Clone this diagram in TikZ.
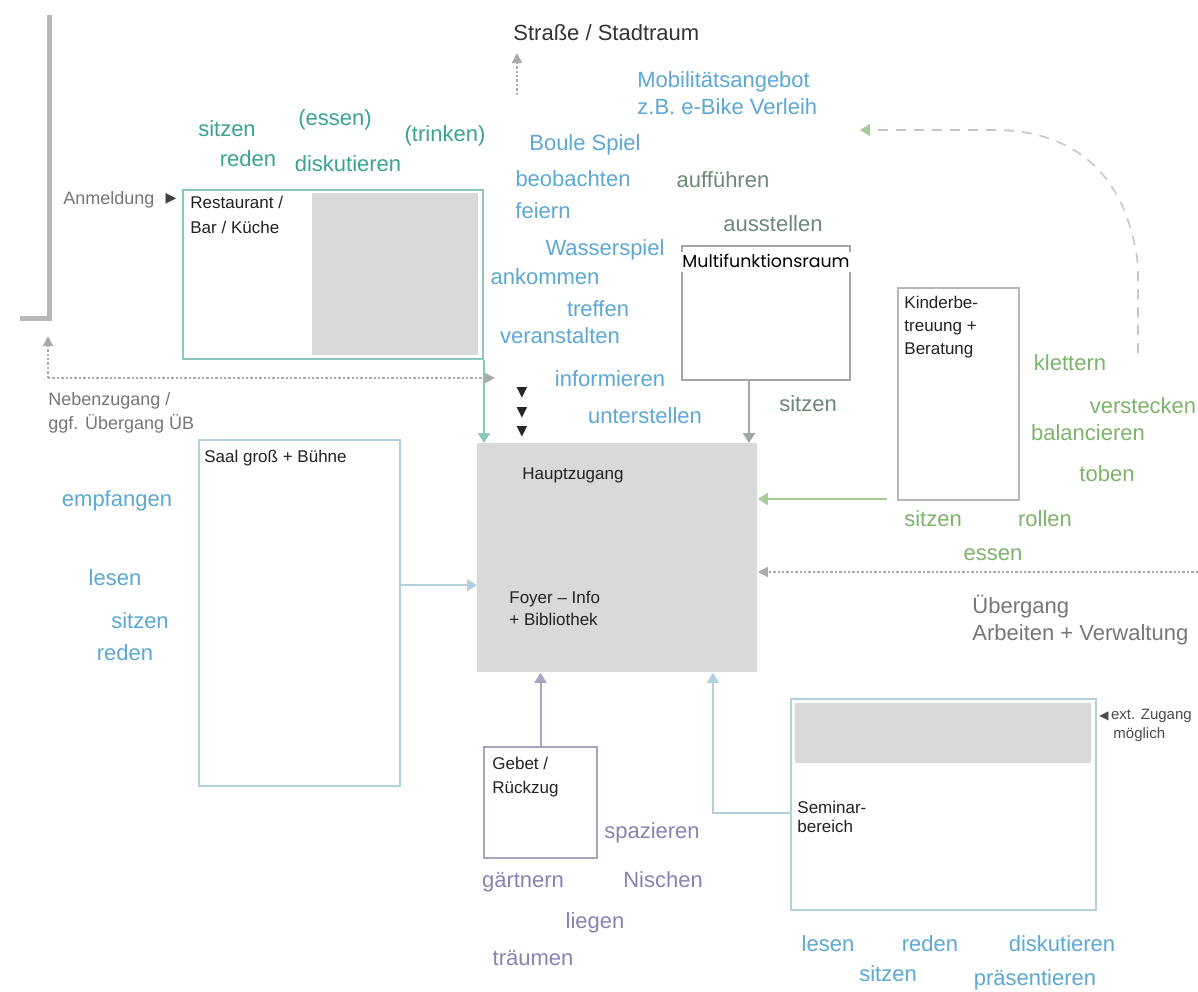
\documentclass[tikz,border=0pt]{standalone}
\usepackage{fontspec}
\setmainfont{Liberation Sans}
\newfontfamily\geo{Poppins}
\newfontfamily\sym{DejaVu Sans}
\usetikzlibrary{arrows.meta,calc}
\definecolor{tealtxt}{HTML}{3AA394}
\definecolor{tealline}{HTML}{8CC5BC}
\definecolor{bluetxt}{HTML}{5DA8D4}
\definecolor{blueline}{HTML}{B4D0DE}
\definecolor{ggtxt}{HTML}{6C8A78}
\definecolor{greentxt}{HTML}{7DB46C}
\definecolor{greenline}{HTML}{A9CB9C}
\definecolor{purpletxt}{HTML}{8A82B4}
\definecolor{purpleline}{HTML}{A7A3C0}
\definecolor{grayline}{HTML}{A3A8A5}
\definecolor{kinderline}{HTML}{B5B8B5}
\definecolor{boxgray}{HTML}{D9D9D9}
\definecolor{lbltxt}{HTML}{222222}
\definecolor{graytxt}{HTML}{777777}
\definecolor{dotgray}{HTML}{ABABAB}
\begin{document}
\begin{tikzpicture}[x=0.5pt,y=-0.5pt,
  word/.style={inner sep=0pt, font=\fontsize{11}{13}\selectfont, text height=8pt, text depth=0pt},
  tw/.style={word, text=tealtxt},
  bw/.style={word, text=bluetxt},
  gw/.style={word, text=ggtxt},
  grw/.style={word, text=greentxt},
  pw/.style={word, text=purpletxt},
  lbl/.style={inner sep=0pt, anchor=base west, text=lbltxt, font=\fontsize{8.5}{10}\selectfont},
  glbl/.style={inner sep=0pt, anchor=base west, text=graytxt, font=\fontsize{9}{11}\selectfont},
  room/.style={draw, line width=1pt, inner sep=0pt, anchor=north west},
  arr/.style={line width=1pt, -{Triangle[length=5pt,width=6pt]}},
  dots/.style={line width=0.8pt, dash pattern=on 1.2pt off 1pt, draw=dotgray},
]
\clip (0,0) rectangle (1198,991);
\fill[white] (0,0) rectangle (1198,991);

% top-left bracket
\draw[line width=2.5pt, color=black!28] (20,318) -- (49,318) -- (49,15);

% rooms
\fill[boxgray] (312,193) rectangle (478,355);
\node[room, draw=tealline, minimum width=150pt, minimum height=84.5pt] (rest) at (182,189) {};
\node[lbl] (restl1) at (190,208) {Restaurant /};
\node[lbl] (restl2) at (190,233) {Bar / Küche};

\node[fill=boxgray, inner sep=0pt, anchor=north west, minimum width=140pt, minimum height=114.5pt] (haupt) at (477,443) {};
\node[lbl] (hauptl) at (522,479) {Hauptzugang};
\node[lbl] (foyer1) at (509,603) {Foyer – Info};
\node[lbl] (foyer2) at (509,625) {+ Bibliothek};

\node[room, draw=grayline, minimum width=84pt, minimum height=67pt] (multi) at (681,245) {};
\node[fill=white, inner xsep=0.5pt, inner ysep=0.5pt, text height=7pt, text depth=2pt, anchor=base west, font=\geo\fontsize{8.7}{10}\selectfont] (multil) at (681,267) {Multifunktionsraum};

\node[room, draw=kinderline, minimum width=60.5pt, minimum height=106pt] (kinder) at (897,287) {};
\node[lbl] (kl1) at (904,308) {Kinderbe-};
\node[lbl] (kl2) at (904,331) {treuung +};
\node[lbl] (kl3) at (904,354) {Beratung};

\node[room, draw=blueline, minimum width=100.5pt, minimum height=173pt] (saal) at (198,439) {};
\node[lbl] (saall) at (204,462) {Saal groß + Bühne};

\node[room, draw=purpleline, minimum width=56.5pt, minimum height=55.5pt] (gebet) at (483,746) {};
\node[lbl] (gl1) at (492,769) {Gebet /};
\node[lbl] (gl2) at (492,793) {Rückzug};

\fill[boxgray] (795,703) rectangle (1091,763);
\node[room, draw=blueline, minimum width=152.5pt, minimum height=105.5pt] (seminar) at (790,698) {};
\node[lbl] (sl1) at (797,813) {Seminar-};
\node[lbl] (sl2) at (797,832) {bereich};

% connectors
\draw[arr, tealline] (rest.south east) -- (rest.south east |- haupt.north);
\coordinate (mx) at ($(multi.south west)!0.4!(multi.south east)$);
\draw[arr, grayline] (mx) -- (mx |- haupt.north);
\coordinate (kx) at ($(kinder.south west)+(-10,-2)$);
\draw[arr, greenline] (kx) -- (kx -| haupt.east);
\coordinate (sx) at ($(saal.north east)!0.42!(saal.south east)$);
\draw[arr, blueline] (sx) -- (sx -| haupt.west);
\draw[arr, purpleline] (gebet.north) -- (gebet.north |- haupt.south);
\coordinate (semx) at ($(seminar.north west)!0.54!(seminar.south west)$);
\coordinate (hx) at ($(haupt.south west)!0.84!(haupt.south east)$);
\draw[arr, blueline] (semx) -| (hx);

% three small triangles
\foreach \yy/\nm in {393/t1,413/t2,432/t3}
  \node[inner sep=0pt, font=\sym\fontsize{7}{7}\selectfont, text=black!85] (\nm) at (522,\yy) {▼};

% Nebenzugang
\coordinate (nbup) at (48,336);
\coordinate (nbcorner) at (48,378);
\coordinate (nbright) at (495,378);
\draw[dots, -{Triangle[length=5pt,width=5pt]}, dotgray] (nbcorner) -- (nbup);
\draw[dots, -{Triangle[length=5pt,width=5pt]}, dotgray] (nbcorner) -- (nbright);
\node[glbl] (nb1) at (48,405) {Nebenzugang /};
\node[glbl] (nb2) at (48,429) {ggf. Übergang ÜB};

% Anmeldung
\node[glbl] (anm) at (63,204) {Anmeldung};
\node[inner sep=0pt, font=\sym\fontsize{7}{7}\selectfont, text=black!75] (anmt) at (171,199) {▶};

% Strasse
\node[inner sep=0pt, anchor=base west, text=black!80, font=\fontsize{11}{13}\selectfont] (strasse) at (513,40) {Straße / Stadtraum};
\coordinate (st0) at (517,95);
\coordinate (st1) at (517,53);
\draw[dots, -{Triangle[length=5pt,width=5pt]}] (st0) -- (st1);

% Mobilitaet
\node[bw, anchor=west] (mob1) at (637,79) {Mobilitätsangebot};
\node[bw, anchor=west] (mob2) at (637,106) {z.B. e-Bike Verleih};

% curved dashed arrow
\coordinate (cv0) at (1138,353);
\coordinate (cv1) at (860,130);
\draw[line width=0.8pt, draw=black!22, dash pattern=on 5pt off 4pt,
  -{Triangle[length=5pt,width=6pt, fill=greenline, color=greenline]}]
  (cv0) -- (1138,265) .. controls (1125,160) and (1060,132) .. (1000,130) -- (cv1);

% Uebergang
\coordinate (ub0) at (1198,572);
\draw[dots, -{Triangle[length=5pt,width=5pt]}] (ub0) -- (ub0 -| haupt.east);
\node[inner sep=0pt, anchor=base west, text=graytxt, font=\fontsize{11}{13}\selectfont] (ub1) at (972,613) {Übergang};
\node[inner sep=0pt, anchor=base west, text=graytxt, font=\fontsize{11}{13}\selectfont] (ub2) at (972,640) {Arbeiten + Verwaltung};

% ext Zugang
\node[lbl, text=black!70, font=\fontsize{7.5}{9}\selectfont] (ext1) at (1099,719) {{\sym\fontsize{6}{6}\selectfont ◀}\,ext. Zugang};
\node[lbl, text=black!70, font=\fontsize{7.5}{9}\selectfont] (ext2) at (1113,738) {möglich};

% teal words
\node[tw] (w1) at (227,128) {sitzen};
\node[tw] (w2) at (335,117) {(essen)};
\node[tw] (w3) at (445,133) {(trinken)};
\node[tw] (w4) at (248,158) {reden};
\node[tw] (w5) at (348,163) {diskutieren};

% blue words
\node[bw] (b1) at (585,142) {Boule Spiel};
\node[bw] (b2) at (573,178) {beobachten};
\node[bw] (b3) at (543,210) {feiern};
\node[bw] (b4) at (605,247) {Wasserspiel};
\node[bw] (b5) at (545,276) {ankommen};
\node[bw] (b6) at (598,308) {treffen};
\node[bw] (b7) at (560,335) {veranstalten};
\node[bw] (b8) at (610,378) {informieren};
\node[bw] (b9) at (645,415) {unterstellen};
\node[bw] (b10) at (117,498) {empfangen};
\node[bw] (b11) at (115,577) {lesen};
\node[bw] (b12) at (140,620) {sitzen};
\node[bw] (b13) at (125,652) {reden};
\node[bw] (b14) at (828,943) {lesen};
\node[bw] (b15) at (930,943) {reden};
\node[bw] (b16) at (1062,943) {diskutieren};
\node[bw] (b17) at (888,973) {sitzen};
\node[bw] (b18) at (1035,977) {präsentieren};

% gray-green words
\node[gw] (g1) at (723,179) {aufführen};
\node[gw] (g2) at (773,223) {ausstellen};
\node[gw] (g3) at (808,403) {sitzen};

% green words
\node[grw] (k1) at (1070,362) {klettern};
\node[grw] (k2) at (1143,405) {verstecken};
\node[grw] (k3) at (1088,432) {balancieren};
\node[grw] (k4) at (1107,473) {toben};
\node[grw] (k5) at (933,518) {sitzen};
\node[grw] (k6) at (1045,518) {rollen};
\node[grw] (k7) at (993,552) {essen};

% purple words
\node[pw] (p1) at (652,830) {spazieren};
\node[pw] (p2) at (523,879) {gärtnern};
\node[pw] (p3) at (663,879) {Nischen};
\node[pw] (p4) at (595,920) {liegen};
\node[pw] (p5) at (533,957) {träumen};
\end{tikzpicture}
\end{document}
